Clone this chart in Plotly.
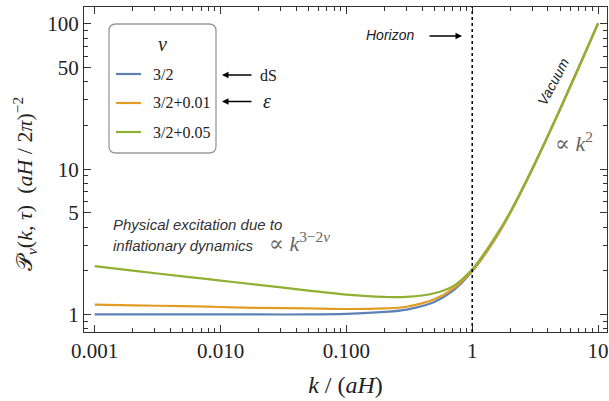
import plotly.graph_objects as go

# k/(aH) sample points
k_vals = [0.001, 0.002, 0.005, 0.01, 0.02, 0.05, 0.1, 0.2, 0.3, 0.5, 0.7, 1.0, 1.5, 2.0, 3.0, 5.0, 7.0, 10.0]

p_ds = [1.0, 1.0, 1.0, 1.0, 1.0, 1.0, 1.01, 1.04, 1.08, 1.22, 1.45, 1.98, 3.25, 5.0, 10.0, 26.0, 50.0, 101.0]
p_eps = [1.17, 1.155, 1.14, 1.125, 1.11, 1.10, 1.09, 1.10, 1.13, 1.27, 1.50, 2.0, 3.26, 5.0, 10.0, 26.0, 50.0, 101.0]
p_005 = [2.15, 2.0, 1.83, 1.71, 1.60, 1.46, 1.37, 1.32, 1.32, 1.40, 1.56, 2.05, 3.35, 5.05, 10.1, 26.0, 50.0, 101.0]

series_names = ["3/2", "3/2+0.01", "3/2+0.05"]
series_vals = [p_ds, p_eps, p_005]
colors = ["#5E81B5", "#E19C24", "#8FB032"]

x_tickvals = [0.001, 0.01, 0.1, 1, 10]
x_ticktext = ["0.001", "0.010", "0.100", "1", "10"]
y_tickvals = [1, 5, 10, 50, 100]
y_ticktext = ["1", "5", "10", "50", "100"]

x_minor = [m * 10**e for e in range(-3, 1) for m in range(2, 10)]
y_minor = [0.8, 0.9] + [m * 10**e for e in range(0, 2) for m in range(2, 10) if not (m == 5)]

fig = go.Figure()
for i, (name, vals, c) in enumerate(zip(series_names, series_vals, colors)):
    fig.add_trace(go.Scatter(x=k_vals, y=vals, mode="lines", name=name,
                             line=dict(color=c, width=2.2, shape="spline"),
                             showlegend=False))

serif = "Liberation Serif, DejaVu Serif, serif"
sans = "Liberation Sans, DejaVu Sans, sans-serif"
axcol = "#333333"

L, R, T, B = 84, 607, 7, 332

fig.update_layout(
    width=609, height=401,
    margin=dict(l=L, r=609 - R, t=T, b=401 - B),
    paper_bgcolor="white", plot_bgcolor="white",
    showlegend=False,
    xaxis=dict(type="log", range=[-3.085, 1.071], tickvals=x_tickvals, ticktext=x_ticktext,
               ticks="inside", ticklen=7, tickwidth=1, tickcolor=axcol,
               showline=True, linecolor=axcol, linewidth=1.2, mirror="ticks",
               showgrid=False, zeroline=False, automargin=False,
               tickfont=dict(family=serif, size=21, color="#222"),
               minor=dict(tickvals=x_minor, ticks="inside", ticklen=4, tickcolor=axcol, showgrid=False),
               title=dict(text="<i>k</i> / (<i>aH</i>)", font=dict(family=serif, size=24, color="#222"), standoff=13)),
    yaxis=dict(type="log", range=[-0.121, 2.117], tickvals=y_tickvals, ticktext=y_ticktext,
               ticks="inside", ticklen=7, tickwidth=1, tickcolor=axcol,
               showline=True, linecolor=axcol, linewidth=1.2, mirror="ticks",
               showgrid=False, zeroline=False, automargin=False,
               tickfont=dict(family=serif, size=21, color="#222"),
               minor=dict(tickvals=y_minor, ticks="inside", ticklen=4, tickcolor=axcol, showgrid=False)),
)

# horizon line
fig.add_shape(type="line", xref="x", yref="paper", x0=1, x1=1, y0=0, y1=1,
              line=dict(color="black", width=1.5, dash="dot"))

def px(x):
    return (x - L) / (R - L)
def py(y):
    return 1 - (y - T) / (B - T)

# legend frame (rounded), pixel corners
x0, x1, y0, y1, r = 109, 216, 24, 153, 7
path = (f"M {px(x0 + r)},{py(y0)} L {px(x1 - r)},{py(y0)} Q {px(x1)},{py(y0)} {px(x1)},{py(y0 + r)} "
        f"L {px(x1)},{py(y1 - r)} Q {px(x1)},{py(y1)} {px(x1 - r)},{py(y1)} "
        f"L {px(x0 + r)},{py(y1)} Q {px(x0)},{py(y1)} {px(x0)},{py(y1 - r)} "
        f"L {px(x0)},{py(y0 + r)} Q {px(x0)},{py(y0)} {px(x0 + r)},{py(y0)} Z")
fig.add_shape(type="path", xref="paper", yref="paper", path=path,
              line=dict(color="#999", width=1.3), fillcolor="rgba(0,0,0,0)")

# legend entries
legend_rows = [74, 103, 132]
for name, c, yy in zip(series_names, colors, legend_rows):
    fig.add_shape(type="line", xref="paper", yref="paper",
                  x0=px(116), x1=px(141), y0=py(yy), y1=py(yy),
                  line=dict(color=c, width=2.2))
    fig.add_annotation(xref="paper", yref="paper", x=px(151), y=py(yy), text=name,
                       showarrow=False, xanchor="left", yanchor="middle",
                       font=dict(family=serif, size=16, color="#222"))
fig.add_annotation(xref="paper", yref="paper", x=px(162), y=py(44), text="<i>ν</i>",
                   showarrow=False, xanchor="center", yanchor="middle",
                   font=dict(family=serif, size=20, color="#222"))

anns = [
    dict(x=24, y=184, text="𝒫<sub><i>v</i></sub>(<i>k</i>, <i>τ</i>)  (<i>aH</i> / 2<i>π</i>)<sup>−2</sup>",
         textangle=-90, font=dict(family=serif, size=22, color="#222")),
    dict(x=390, y=35, text="<i>Horizon</i>", font=dict(family=sans, size=14, color="#222")),
    dict(x=553, y=82, text="<i>Vacuum</i>", textangle=-62, font=dict(family=sans, size=14, color="#222")),
    dict(x=574, y=142, text="∝ <i>k</i><sup>2</sup>", font=dict(family=serif, size=22, color="#666")),
    dict(x=111, y=224, text="<i>Physical excitation due to</i>", xanchor="left",
         font=dict(family=sans, size=15, color="#333")),
    dict(x=111, y=245, text="<i>inflationary dynamics</i>", xanchor="left",
         font=dict(family=sans, size=15, color="#333")),
    dict(x=267, y=242, text="∝ <i>k</i><sup>3−2<i>ν</i></sup>", xanchor="left",
         font=dict(family=serif, size=22, color="#666")),
    dict(x=258, y=75, text="dS", xanchor="left", font=dict(family=serif, size=16, color="#222")),
    dict(x=261, y=101, text="<i>ε</i>", xanchor="left", font=dict(family=serif, size=20, color="#222")),
]
for a in anns:
    a.setdefault("xanchor", "center")
    fig.add_annotation(xref="paper", yref="paper",
                       x=px(a.pop("x")), y=py(a.pop("y")),
                       showarrow=False, yanchor="middle", **a)

# arrows (tail -> head, pixels)
for (ax0, ay0, ax1, ay1) in [(428, 36, 462, 36), (253, 75, 222, 75), (253, 101.5, 222, 101.5)]:
    fig.add_annotation(xref="paper", yref="paper", axref="pixel", ayref="pixel",
                       x=px(ax1), y=py(ay1), ax=ax0 - ax1, ay=ay0 - ay1, text="",
                       showarrow=True, arrowhead=2, arrowsize=1.0, arrowwidth=1.3, arrowcolor="black")

fig.write_html("out.html", config={"displayModeBar": False},
               post_script="document.body.style.margin='0';")
